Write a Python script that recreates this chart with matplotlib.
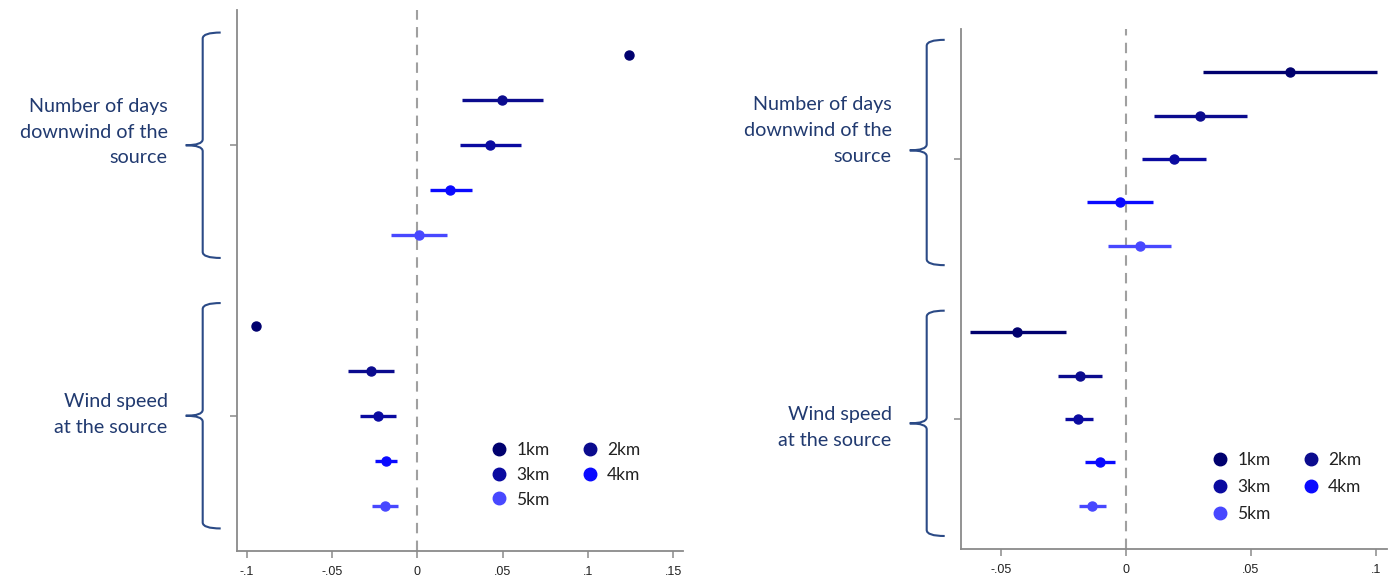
import matplotlib
matplotlib.use("Agg")
import matplotlib.pyplot as plt
from matplotlib.path import Path
from matplotlib.patches import PathPatch
from matplotlib.lines import Line2D
from matplotlib.transforms import IdentityTransform
import numpy as np

# ----------------------------
# data
# ----------------------------
distances = ["1km", "2km", "3km", "4km", "5km"]
groups = ["Number of days\ndownwind of the\nsource", "Wind speed\nat the source"]

left_days_coef = [0.124, 0.0497, 0.0426, 0.0192, 0.001]
left_days_lo = [0.1236, 0.026, 0.025, 0.0074, -0.0154]
left_days_hi = [0.1244, 0.0736, 0.0607, 0.032, 0.0174]
left_wind_coef = [-0.0946, -0.0272, -0.023, -0.0183, -0.019]
left_wind_lo = [-0.095, -0.0406, -0.0336, -0.0248, -0.0266]
left_wind_hi = [-0.0942, -0.0137, -0.0125, -0.0119, -0.0113]

right_days_coef = [0.0657, 0.0297, 0.0193, -0.0023, 0.0057]
right_days_lo = [0.031, 0.0114, 0.0065, -0.0155, -0.007]
right_days_hi = [0.1005, 0.0485, 0.0321, 0.011, 0.018]
right_wind_coef = [-0.0435, -0.0183, -0.019, -0.0103, -0.0135]
right_wind_lo = [-0.0623, -0.0271, -0.0243, -0.0163, -0.0187]
right_wind_hi = [-0.0239, -0.0095, -0.0131, -0.0043, -0.0079]

left_xticks = [-0.1, -0.05, 0, 0.05, 0.1, 0.15]
left_xticklabels = ["-.1", "-.05", "0", ".05", ".1", ".15"]
right_xticks = [-0.05, 0, 0.05, 0.1]
right_xticklabels = ["-.05", "0", ".05", ".1"]

# ----------------------------
# style
# ----------------------------
colors = ["#00006e", "#0b0b8e", "#0a0aa0", "#0a0aff", "#4848ff"]
text_blue = "#213a70"
axis_gray = "#8a8a8a"
W, H = 1396, 582

fig = plt.figure(figsize=(W / 100, H / 100), dpi=100)
fig.patch.set_facecolor("white")

ax_l = fig.add_axes([236.7 / W, (H - 551) / H, (683 - 236.7) / W, (551 - 10) / H])
ax_r = fig.add_axes([960.7 / W, (H - 549) / H, (1387 - 960.7) / W, (549 - 29) / H])

panels = [
    dict(ax=ax_l, xlim=(-0.1059, 0.1557), ticks=left_xticks, ticklabels=left_xticklabels,
         coef=[left_days_coef, left_wind_coef], lo=[left_days_lo, left_wind_lo],
         hi=[left_days_hi, left_wind_hi],
         braces=[(0.5, 3.0, 5.5), (6.5, 9.0, 11.5)], label_dy=[-13, -1],
         leg_anchor=(0.537, 0.23), leg_spacing=0.5),
    dict(ax=ax_r, xlim=(-0.066, 0.1045), ticks=right_xticks, ticklabels=right_xticklabels,
         coef=[right_days_coef, right_wind_coef], lo=[right_days_lo, right_wind_lo],
         hi=[right_days_hi, right_wind_hi],
         braces=[(0.25, 2.8, 5.45), (6.5, 9.1, 11.7)], label_dy=[-20, 4],
         leg_anchor=(0.555, 0.217), leg_spacing=0.65),
]

for p in panels:
    ax = p["ax"]
    for g in range(2):
        for i in range(5):
            y = 1 + i + 6 * g
            ax.plot([p["lo"][g][i], p["hi"][g][i]], [y, y], color=colors[i], lw=2.4,
                    solid_capstyle="butt", zorder=3)
            ax.plot(p["coef"][g][i], y, "o", color=colors[i], ms=6.5, zorder=4)

    ax.axvline(0, color="#a0a0a0", lw=1.5, ls=(0, (5, 3.5)), zorder=1)
    ax.set_xlim(*p["xlim"])
    ax.set_ylim(12, 0)
    ax.set_xticks(p["ticks"])
    ax.set_xticklabels(p["ticklabels"], fontfamily="Liberation Sans", fontsize=9, color="#222222")
    ax.set_yticks([3, 9])
    ax.set_yticklabels([])
    ax.tick_params(axis="both", color=axis_gray, length=5, width=1.1, pad=6)
    for s in ["top", "right"]:
        ax.spines[s].set_visible(False)
    for s in ["left", "bottom"]:
        ax.spines[s].set_color(axis_gray)
        ax.spines[s].set_linewidth(1.3)

    # legend, filled row by row like the original
    handles = [Line2D([], [], ls="none", marker="o", ms=9, color=c) for c in colors]
    order = [0, 2, 4, 1, 3]
    ax.legend([handles[k] for k in order], [distances[k] for k in order], ncol=2,
              loc="upper left", bbox_to_anchor=p["leg_anchor"], frameon=False,
              prop=dict(family="Lato", size=12.5), handlelength=0.8, handletextpad=0.6,
              columnspacing=1.9, labelspacing=p["leg_spacing"], labelcolor="#222222")

fig.canvas.draw()

# ----------------------------
# curly braces and group labels
# ----------------------------
for p in panels:
    ax = p["ax"]
    x0 = ax.transAxes.transform((0, 0))[0]
    xe, xv, xt = x0 - 16, x0 - 34, x0 - 51
    r = 6
    for (s0, sm, s1), name, dy in zip(p["braces"], groups, p["label_dy"]):
        yt = ax.transData.transform((0, s0))[1]
        ym = ax.transData.transform((0, sm))[1]
        yb = ax.transData.transform((0, s1))[1]
        verts = [(xe, yt), (xv, yt), (xv, yt - r),
                 (xv, ym + r),
                 (xv, ym), (xt, ym),
                 (xv, ym), (xv, ym - r),
                 (xv, yb + r),
                 (xv, yb), (xe, yb)]
        codes = [Path.MOVETO, Path.CURVE3, Path.CURVE3,
                 Path.LINETO,
                 Path.CURVE3, Path.CURVE3,
                 Path.CURVE3, Path.CURVE3,
                 Path.LINETO,
                 Path.CURVE3, Path.CURVE3]
        fig.add_artist(PathPatch(Path(verts, codes), fill=False, ec="#2b4a86", lw=1.5,
                                 transform=IdentityTransform()))
        fig.text((x0 - 69) / W, (ym - dy) / H, name, ha="right", va="center",
                 multialignment="right", family="Lato", fontsize=14.2, color=text_blue,
                 linespacing=1.62)

fig.savefig("out.png", dpi=100)
